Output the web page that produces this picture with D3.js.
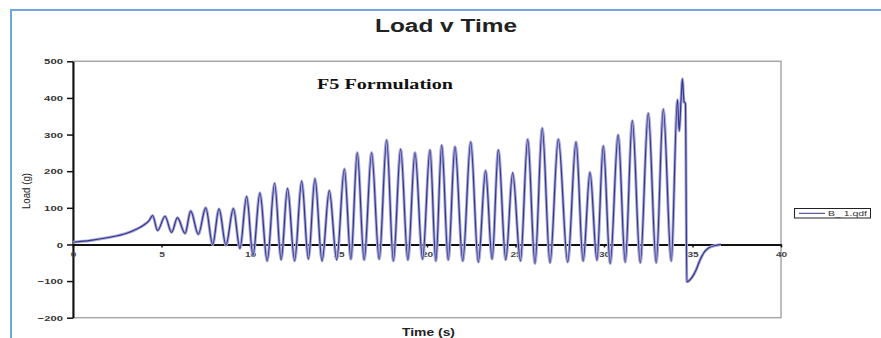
<!DOCTYPE html>
<html>
<head>
<meta charset="utf-8">
<script src="https://cdn.jsdelivr.net/npm/d3@7"></script>
<style>
  html, body { margin: 0; padding: 0; background: #fff; }
  svg { display: block; }
</style>
</head>
<body>
<script>
// Chart text
const chartTitle = "Load v Time";
const noteText = "F5 Formulation";
const xLabel = "Time (s)";
const yLabel = "Load (g)";
const seriesName = "B_ 1.qdf";

// Tick values
const xTicks = [0, 5, 10, 15, 20, 25, 30, 35, 40];
const yTicks = [-200, -100, 0, 100, 200, 300, 400, 500];

// Series (peaks and troughs of each cycle)
const time = [
  0, 1, 2, 3, 3.6, 4.0, 4.3, 4.5,
  4.78, 5.2, 5.57, 5.9, 6.33, 6.65, 7.08, 7.5, 7.89, 8.25, 8.64, 9.06,
  9.43, 9.81, 10.17, 10.56, 10.97, 11.39, 11.76, 12.12, 12.52, 12.92,
  13.3, 13.67, 14.07, 14.48, 14.9, 15.33, 15.7, 16.06, 16.45, 16.87,
  17.3, 17.72, 18.1, 18.51, 18.92, 19.32, 19.75, 20.17, 20.5, 20.83,
  21.2, 21.58, 22.02, 22.47, 22.9, 23.31, 23.68, 24.03, 24.45, 24.84,
  25.28, 25.69, 26.1, 26.51, 26.95, 27.42, 27.95, 28.42, 28.82, 29.21,
  29.6, 29.96, 30.35, 30.8, 31.2, 31.6, 32.05, 32.5, 32.95, 33.35,
  33.8, 34.15, 34.25, 34.35, 34.43, 34.52, 34.6, 34.68,
  35.0, 35.2, 35.42, 35.65, 35.9, 36.37, 36.6
];
const load = [
  6, 11, 19, 30, 42, 53, 65, 79,
  38, 77, 33, 73, 30, 91, 28, 100, 0, 97, -2, 98,
  -11, 131, -30, 141, -45, 167, -42, 153, -45, 173,
  -40, 180, -45, 147, -42, 206, -40, 250, -42, 250,
  -40, 285, -45, 260, -42, 250, -40, 258, -45, 271,
  -42, 267, -45, 280, -48, 201, -40, 258, -42, 196,
  -45, 287, -52, 317, -50, 287, -48, 280, -45, 197,
  -43, 269, -52, 299, -48, 338, -50, 358, -50, 369,
  -45, 395, 310, 392, 452, 390, 385, -102,
  -88, -70, -43, -22, -10, -2, 0
];

const width = 881;
const height = 338;

const svg = d3.select("body").append("svg")
  .attr("width", width)
  .attr("height", height)
  .attr("viewBox", [0, 0, width, height])
  .style("font-family", "Arial, 'Liberation Sans', sans-serif");

// outer blue frame (left + top)
svg.append("path")
  .attr("d", "M11,338 V10 H881")
  .attr("fill", "none")
  .attr("stroke", "#6fa7dd")
  .attr("stroke-width", 2);

const x = d3.scaleLinear().domain([0, 40]).range([73, 781]);
const y = d3.scaleLinear().domain([-200, 500]).range([317.7, 61.3]);

// plot frame
svg.append("rect")
  .attr("x", x(0))
  .attr("y", y(500))
  .attr("width", x(40) - x(0))
  .attr("height", y(-200) - y(500))
  .attr("fill", "none")
  .attr("stroke", "#a8a8a8")
  .attr("stroke-width", 1.5);

// y axis
const yAxis = svg.append("g")
  .attr("transform", `translate(${x(0)},0)`)
  .call(d3.axisLeft(y).tickValues(yTicks).tickSize(6).tickSizeOuter(0).tickPadding(4));
yAxis.select(".domain").attr("stroke", "#111").attr("stroke-width", 2);
yAxis.selectAll(".tick line").attr("stroke", "#111").attr("stroke-width", 1.5);
yAxis.selectAll("text")
  .attr("font-size", 8)
  .attr("font-weight", "bold")
  .attr("fill", "#333")
  .attr("textLength", d => String(d).length * 6.3)
  .attr("lengthAdjust", "spacingAndGlyphs");

// x axis at zero load
const xAxis = svg.append("g")
  .attr("transform", `translate(0,${y(0)})`)
  .call(d3.axisBottom(x).tickValues(xTicks).tickSize(3).tickSizeOuter(0).tickPadding(4));
xAxis.select(".domain").attr("stroke", "#111").attr("stroke-width", 2);
xAxis.selectAll(".tick line").attr("stroke", "#111").attr("stroke-width", 1.5);
xAxis.selectAll("text")
  .attr("font-size", 8)
  .attr("font-weight", "bold")
  .attr("fill", "#444")
  .attr("textLength", d => String(d).length * 5.6)
  .attr("lengthAdjust", "spacingAndGlyphs");

// data line
const pts = time.map((t, i) => [t, load[i]]);
const line = d3.line()
  .x(d => x(d[0]))
  .y(d => y(d[1]))
  .curve(d3.curveMonotoneX);

svg.append("path")
  .datum(pts)
  .attr("d", line)
  .attr("fill", "none")
  .attr("stroke", "#a9a9d8")
  .attr("stroke-width", 3)
  .attr("stroke-linejoin", "round");

svg.append("path")
  .datum(pts)
  .attr("d", line)
  .attr("fill", "none")
  .attr("stroke", "#34368c")
  .attr("stroke-width", 1.2)
  .attr("stroke-linejoin", "round");

// title
svg.append("text")
  .attr("x", 446)
  .attr("y", 32)
  .attr("text-anchor", "middle")
  .attr("font-size", 18)
  .attr("font-weight", "bold")
  .attr("fill", "#222")
  .attr("textLength", 142)
  .attr("lengthAdjust", "spacingAndGlyphs")
  .text(chartTitle);

// note inside plot
svg.append("text")
  .attr("x", 317)
  .attr("y", 89)
  .attr("font-family", "'Liberation Serif', 'DejaVu Serif', serif")
  .attr("font-size", 15)
  .attr("font-weight", "bold")
  .attr("fill", "#111")
  .attr("textLength", 136)
  .attr("lengthAdjust", "spacingAndGlyphs")
  .text(noteText);

// axis titles
svg.append("text")
  .attr("x", 428.5)
  .attr("y", 336)
  .attr("text-anchor", "middle")
  .attr("font-size", 10)
  .attr("font-weight", "bold")
  .attr("fill", "#222")
  .attr("textLength", 53)
  .attr("lengthAdjust", "spacingAndGlyphs")
  .text(xLabel);

svg.append("text")
  .attr("transform", "translate(30,191) rotate(-90)")
  .attr("text-anchor", "middle")
  .attr("font-size", 11)
  .attr("fill", "#222")
  .attr("textLength", 36)
  .attr("lengthAdjust", "spacingAndGlyphs")
  .text(yLabel);

// legend
const legend = svg.append("g");
legend.append("rect")
  .attr("x", 794.5)
  .attr("y", 208.5)
  .attr("width", 76)
  .attr("height", 9.5)
  .attr("fill", "#fff")
  .attr("stroke", "#222")
  .attr("stroke-width", 1);
legend.append("line")
  .attr("x1", 799).attr("x2", 825)
  .attr("y1", 213.3).attr("y2", 213.3)
  .attr("stroke", "#34368c")
  .attr("stroke-width", 1);
legend.append("text")
  .attr("x", 828)
  .attr("y", 216)
  .attr("font-size", 7)
  .attr("fill", "#333")
  .attr("textLength", 39)
  .attr("lengthAdjust", "spacingAndGlyphs")
  .text(seriesName);
</script>
</body>
</html>
